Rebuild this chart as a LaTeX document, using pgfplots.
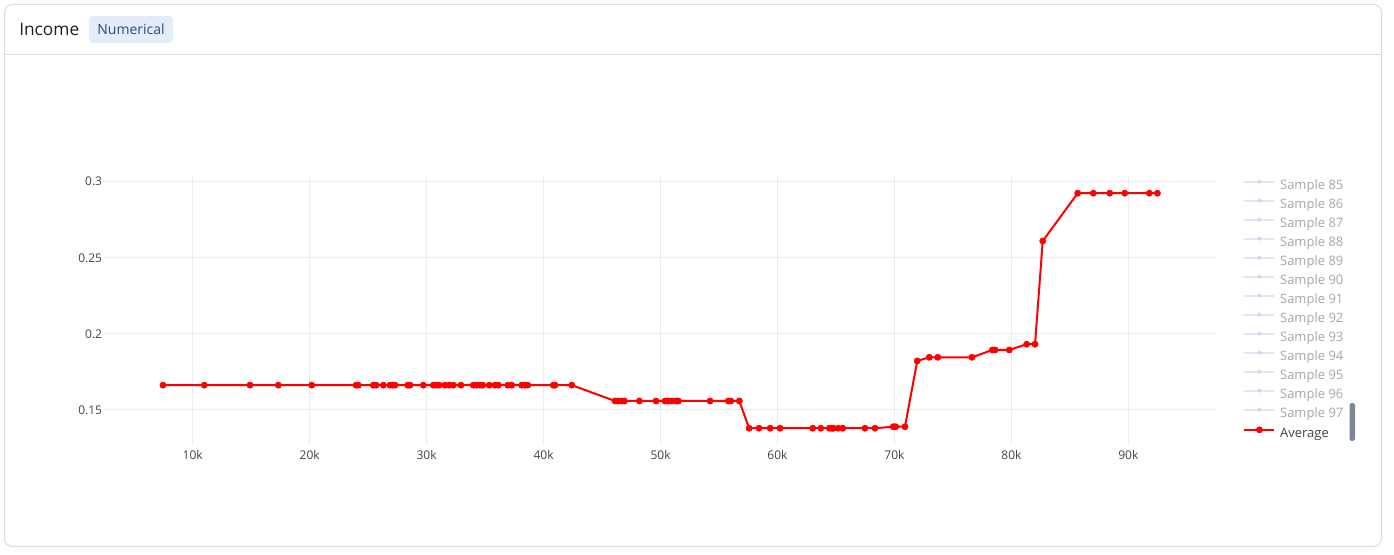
\documentclass[border=0pt]{standalone}
\usepackage{pgfplots}
\pgfplotsset{compat=1.18}
\usepackage{pgfplotstable}
\usepackage{fontspec}
\setmainfont{Open Sans}
\definecolor{tickgray}{HTML}{444444}
\definecolor{gridgray}{HTML}{EBEBEB}
\definecolor{cardborder}{HTML}{DCDCDC}
\definecolor{fadeline}{HTML}{DFE8F2}
\definecolor{fademark}{HTML}{CCDAE9}
\definecolor{fadetext}{HTML}{A6A6A6}
\definecolor{badgefill}{HTML}{E3EDFA}
\definecolor{badgetext}{HTML}{2F4A7C}
\definecolor{scrollc}{HTML}{7C8699}
\definecolor{avgred}{HTML}{FF0000}

\pgfplotstableread{
x y
7460 0.1663
10990 0.1663
14900 0.1663
17320 0.1663
20180 0.1663
23970 0.1663
24160 0.1663
25440 0.1663
25680 0.1663
26300 0.1663
26870 0.1663
27100 0.1663
27300 0.1663
28390 0.1663
28580 0.1663
29720 0.1663
30570 0.1663
30810 0.1663
31060 0.1663
31570 0.1663
31940 0.1663
32280 0.1663
32940 0.1663
33990 0.1663
34280 0.1663
34570 0.1663
34800 0.1663
35360 0.1663
35850 0.1663
36130 0.1663
36940 0.1663
37280 0.1663
38130 0.1663
38420 0.1663
38650 0.1663
40830 0.1663
40980 0.1663
42410 0.1663
46110 0.1559
46390 0.1559
46680 0.1559
46910 0.1559
48190 0.1559
49620 0.1559
50390 0.1559
50670 0.1559
50960 0.1559
51330 0.1559
51530 0.1559
54240 0.1559
55800 0.1559
56010 0.1559
56740 0.1559
57570 0.1380
58420 0.1380
59370 0.1380
60220 0.1380
63010 0.1380
63700 0.1380
64430 0.1380
64640 0.1380
64780 0.1380
65200 0.1380
65580 0.1380
67480 0.1380
68340 0.1380
69900 0.1390
70110 0.1390
70900 0.1390
71950 0.1822
72980 0.1846
73700 0.1846
76630 0.1846
78370 0.1894
78600 0.1894
79820 0.1894
81310 0.1932
82020 0.1932
82680 0.2610
85670 0.2924
87000 0.2924
88410 0.2924
89690 0.2924
91790 0.2924
92480 0.2924
}\avgdata

\begin{document}
\begin{tikzpicture}[x=0.75pt,y=0.75pt]
\useasboundingbox (0,0) rectangle (1394,555);
% card
\draw[cardborder, line width=0.75pt, rounded corners=6pt] (4.5,8.5) rectangle (1381.5,550.5);
\draw[cardborder, line width=0.75pt] (4.5,500) -- (1381.5,500);
\node[anchor=west, inner sep=0pt, text=black!88, font=\fontsize{13pt}{14pt}\selectfont] at (19,526) {Income};
\fill[badgefill, rounded corners=3pt] (89,512) rectangle (173,539);
\node[anchor=center, inner sep=0pt, text=badgetext, font=\fontsize{10.5pt}{12pt}\selectfont] at (131,525.5) {Numerical};

\begin{axis}[
  at={(77.25pt,82.5pt)}, anchor=south west,
  scale only axis, width=835.5pt, height=201.75pt,
  xmin=2330, xmax=97580, ymin=0.127, ymax=0.3037,
  axis line style={draw=none},
  major tick length=0pt,
  scaled x ticks=false, scaled y ticks=false,
  xtick={10000,20000,30000,40000,50000,60000,70000,80000,90000},
  xticklabels={10k,20k,30k,40k,50k,60k,70k,80k,90k},
  ytick={0.15,0.2,0.25,0.3},
  yticklabels={0.15,0.2,0.25,0.3},
  grid=major,
  major grid style={gridgray, line width=0.75pt},
  tick label style={font=\fontsize{9pt}{10pt}\selectfont, text=tickgray},
  xticklabel style={anchor=center, yshift=-7.5pt},
  yticklabel style={anchor=east, inner sep=0pt, xshift=-0.5pt},
  /pgf/number format/assume math mode=true,
  legend style={at={(axis description cs:1.0235,0.987)}, anchor=north west,
    draw=none, fill=none, inner sep=0pt, row sep=4.6pt,
    font=\fontsize{9.75pt}{11pt}\selectfont,
    nodes={inner sep=0pt, anchor=west, text height=7.3pt, text depth=2.2pt}},
  legend cell align=left,
  legend image code/.code={
    \draw[#1, mark repeat=2, mark phase=2] plot coordinates {(0pt,3.5pt) (11.25pt,3.5pt) (22.5pt,3.5pt)};
    \path (26pt,0pt);
  },
]
\addlegendimage{fadeline, line width=1.5pt, mark=*, mark size=1.4pt, mark options={fademark, fill=fademark, line width=0.4pt}}
\addlegendentry{\textcolor{fadetext}{Sample 85}}
\addlegendimage{fadeline, line width=1.5pt, mark=*, mark size=1.4pt, mark options={fademark, fill=fademark, line width=0.4pt}}
\addlegendentry{\textcolor{fadetext}{Sample 86}}
\addlegendimage{fadeline, line width=1.5pt, mark=*, mark size=1.4pt, mark options={fademark, fill=fademark, line width=0.4pt}}
\addlegendentry{\textcolor{fadetext}{Sample 87}}
\addlegendimage{fadeline, line width=1.5pt, mark=*, mark size=1.4pt, mark options={fademark, fill=fademark, line width=0.4pt}}
\addlegendentry{\textcolor{fadetext}{Sample 88}}
\addlegendimage{fadeline, line width=1.5pt, mark=*, mark size=1.4pt, mark options={fademark, fill=fademark, line width=0.4pt}}
\addlegendentry{\textcolor{fadetext}{Sample 89}}
\addlegendimage{fadeline, line width=1.5pt, mark=*, mark size=1.4pt, mark options={fademark, fill=fademark, line width=0.4pt}}
\addlegendentry{\textcolor{fadetext}{Sample 90}}
\addlegendimage{fadeline, line width=1.5pt, mark=*, mark size=1.4pt, mark options={fademark, fill=fademark, line width=0.4pt}}
\addlegendentry{\textcolor{fadetext}{Sample 91}}
\addlegendimage{fadeline, line width=1.5pt, mark=*, mark size=1.4pt, mark options={fademark, fill=fademark, line width=0.4pt}}
\addlegendentry{\textcolor{fadetext}{Sample 92}}
\addlegendimage{fadeline, line width=1.5pt, mark=*, mark size=1.4pt, mark options={fademark, fill=fademark, line width=0.4pt}}
\addlegendentry{\textcolor{fadetext}{Sample 93}}
\addlegendimage{fadeline, line width=1.5pt, mark=*, mark size=1.4pt, mark options={fademark, fill=fademark, line width=0.4pt}}
\addlegendentry{\textcolor{fadetext}{Sample 94}}
\addlegendimage{fadeline, line width=1.5pt, mark=*, mark size=1.4pt, mark options={fademark, fill=fademark, line width=0.4pt}}
\addlegendentry{\textcolor{fadetext}{Sample 95}}
\addlegendimage{fadeline, line width=1.5pt, mark=*, mark size=1.4pt, mark options={fademark, fill=fademark, line width=0.4pt}}
\addlegendentry{\textcolor{fadetext}{Sample 96}}
\addlegendimage{fadeline, line width=1.5pt, mark=*, mark size=1.4pt, mark options={fademark, fill=fademark, line width=0.4pt}}
\addlegendentry{\textcolor{fadetext}{Sample 97}}
\addplot[avgred, line width=1.5pt, mark=*, mark size=2.3pt, mark options={fill=avgred, draw=avgred, line width=0.5pt}] table[x=x,y=y] {\avgdata};
\addlegendentry{\textcolor{tickgray}{Average}}
\end{axis}
% legend scrollbar
\fill[scrollc, rounded corners=1.8pt] (1349.5,114) rectangle (1355,152);
\end{tikzpicture}
\end{document}
